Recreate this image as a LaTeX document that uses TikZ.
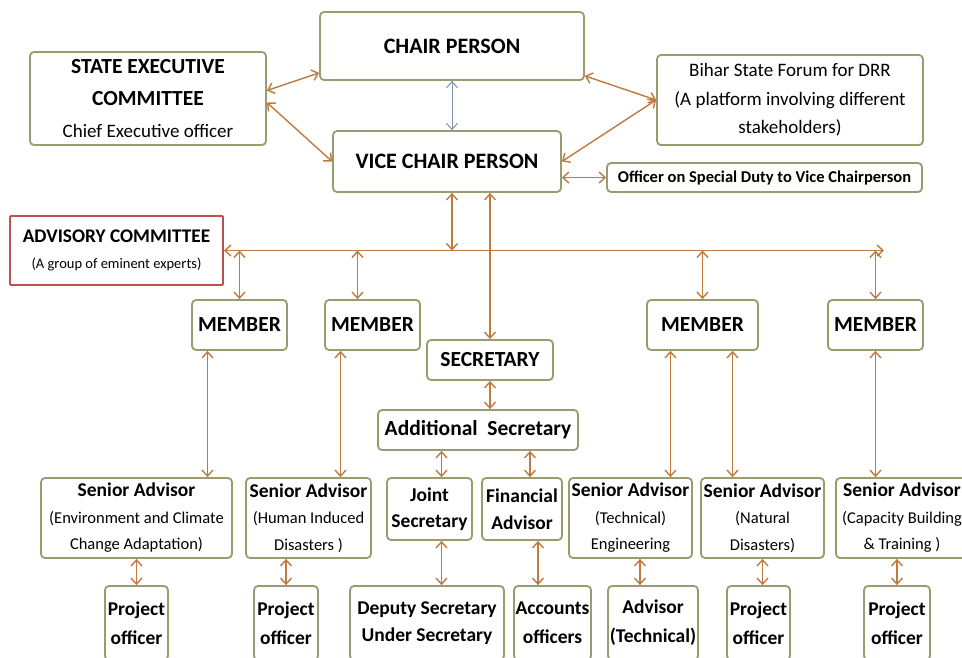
\documentclass[tikz,border=0pt]{standalone}
\usepackage{fontspec}
\setmainfont{Carlito}
\usetikzlibrary{arrows.meta}

\definecolor{boxline}{RGB}{155,155,112}
\definecolor{advline}{RGB}{192,80,77}
\definecolor{linkc}{RGB}{192,122,62}
\definecolor{topc}{RGB}{128,144,168}

\begin{document}
\begin{tikzpicture}[
  x=1pt, y=-1pt,
  box/.style={rectangle, draw=boxline, line width=1.8pt, rounded corners=4pt, fill=white,
              align=center, inner sep=0pt, font=\bfseries\fontsize{19.5}{26.5}\selectfont},
  boxsize/.style 2 args={minimum width=#1pt, minimum height=#2pt},
  arr/.style={{Straight Barb[length=6pt,width=11pt]}-{Straight Barb[length=6pt,width=11pt]},
              draw=linkc, line width=1.4pt}
]
\useasboundingbox[fill=white] (0,0) rectangle (962,657);

% top level
\node[box, boxsize={264}{68}, font=\bfseries\fontsize{22}{26}\selectfont] (chair) at (452,46) {CHAIR PERSON};
\node[box, boxsize={236}{93}, font=\bfseries\fontsize{21.5}{32}\selectfont] (sec) at (148,98.5)
  {STATE EXECUTIVE\\COMMITTEE\\{\mdseries\fontsize{19}{32}\selectfont Chief Executive officer}};
\node[box, boxsize={266}{90}, font=\fontsize{19}{28.5}\selectfont] (forum) at (790,100)
  {Bihar State Forum for DRR\\(A platform involving different\\stakeholders)};
\node[box, boxsize={228}{61}, font=\bfseries\fontsize{22}{26}\selectfont] (vice) at (447,161.5) {VICE CHAIR PERSON};
\node[box, boxsize={315}{29}, font=\bfseries\fontsize{16.5}{20}\selectfont] (osd) at (764.5,177.5)
  {Officer on Special Duty to Vice Chairperson};
\node[box, draw=advline, rounded corners=1pt, boxsize={213}{69}, font=\bfseries\fontsize{19.3}{26}\selectfont] (adv) at (116.5,250.5)
  {ADVISORY COMMITTEE\\{\mdseries\fontsize{14.5}{26}\selectfont (A group of eminent experts)}};

% members and secretariat
\node[box, boxsize={95}{50}, font=\bfseries\fontsize{21.5}{26}\selectfont] (m1) at (239.5,325) {MEMBER};
\node[box, boxsize={95}{50}, font=\bfseries\fontsize{21.5}{26}\selectfont] (m2) at (372.5,325) {MEMBER};
\node[box, boxsize={111}{50}, font=\bfseries\fontsize{21.5}{26}\selectfont] (m3) at (702.5,325) {MEMBER};
\node[box, boxsize={95}{50}, font=\bfseries\fontsize{21.5}{26}\selectfont] (m4) at (875.5,325) {MEMBER};
\node[box, boxsize={126}{40}, font=\bfseries\fontsize{21.5}{26}\selectfont] (secy) at (490,360) {SECRETARY};
\node[box, boxsize={200}{40}, font=\bfseries\fontsize{21.5}{26}\selectfont] (addl) at (478,430) {Additional\ \ Secretary};
\node[box, boxsize={85}{62}] (joint) at (429.5,509) {Joint\\Secretary};
\node[box, boxsize={80}{62}] (fin) at (522,509) {Financial\\Advisor};

% senior advisors
\node[box, boxsize={191}{80}] (sa1) at (136.5,518)
  {Senior Advisor\\{\mdseries\fontsize{16.5}{26.5}\selectfont (Environment and Climate}\\{\mdseries\fontsize{16.5}{26.5}\selectfont Change Adaptation)}};
\node[box, boxsize={125}{80}] (sa2) at (308.5,518)
  {Senior Advisor\\{\mdseries\fontsize{16.5}{26.5}\selectfont (Human Induced}\\{\mdseries\fontsize{16.5}{26.5}\selectfont Disasters )}};
\node[box, boxsize={123}{80}] (sa3) at (630.5,518)
  {Senior Advisor\\{\mdseries\fontsize{16.5}{26.5}\selectfont (Technical)}\\{\mdseries\fontsize{16.5}{26.5}\selectfont Engineering}};
\node[box, boxsize={123}{80}] (sa4) at (762.5,518)
  {Senior Advisor\\{\mdseries\fontsize{16.5}{26.5}\selectfont (Natural}\\{\mdseries\fontsize{16.5}{26.5}\selectfont Disasters)}};
\node[box, boxsize={132}{80}] (sa5) at (902,518)
  {Senior Advisor\\{\mdseries\fontsize{16.5}{26.5}\selectfont (Capacity Building}\\{\mdseries\fontsize{16.5}{26.5}\selectfont \& Training )}};

% bottom row
\node[box, boxsize={63}{74}, font=\bfseries\fontsize{19.5}{29}\selectfont] (po1) at (136.5,623) {Project\\officer};
\node[box, boxsize={64}{74}, font=\bfseries\fontsize{19.5}{29}\selectfont] (po2) at (286,623) {Project\\officer};
\node[box, boxsize={154}{74}, font=\bfseries\fontsize{19.5}{27}\selectfont] (dep) at (427,623) {Deputy Secretary\\Under Secretary};
\node[box, boxsize={77}{74}, font=\bfseries\fontsize{19.5}{29}\selectfont] (acc) at (552.5,623) {Accounts\\officers};
\node[box, boxsize={90}{74}, font=\bfseries\fontsize{19.5}{29}\selectfont] (advt) at (653,623) {Advisor\\(Technical)};
\node[box, boxsize={63}{74}, font=\bfseries\fontsize{19.5}{29}\selectfont] (po4) at (758.5,623) {Project\\officer};
\node[box, boxsize={66}{74}, font=\bfseries\fontsize{19.5}{29}\selectfont] (po5) at (897,623) {Project\\officer};

\coordinate (busR) at (884,250.5);

% links at the top
\draw[arr] ([yshift=8pt]sec.east) -- ([yshift=8pt]chair.south west);
\draw[arr] ([yshift=-4pt]sec.east) -- (vice.west);
\draw[arr, draw=topc, line width=1pt] (chair.south) -- (chair.south |- vice.north);
\draw[arr] ([yshift=5pt]chair.south east) -- (forum.west);
\draw[arr] (vice.east) -- (forum.west);
\draw[arr] (vice.east |- osd.west) -- (osd.west);

% advisory bus
\draw[arr] (adv.east) -- (busR);
\draw[arr] (vice.south -| chair.south) -- (chair.south |- busR);
\draw[arr] (m1.north |- busR) -- (m1.north);
\draw[arr] ([xshift=-15pt]m2.north |- busR) -- ([xshift=-15pt]m2.north);
\draw[arr] (m3.north |- busR) -- (m3.north);
\draw[arr] (m4.north |- busR) -- (m4.north);

% members to senior advisors
\draw[arr] ([xshift=-32pt]m1.south) -- ([xshift=-32pt]m1.south |- sa1.north);
\draw[arr] ([xshift=-32pt]m2.south) -- ([xshift=-32pt]m2.south |- sa2.north);
\draw[arr] ([xshift=-32pt]m3.south) -- ([xshift=-32pt]m3.south |- sa3.north);
\draw[arr] ([xshift=30pt]m3.south) -- ([xshift=30pt]m3.south |- sa4.north);
\draw[arr] (m4.south) -- (m4.south |- sa5.north);

% secretariat
\draw[arr] (secy.north |- vice.south) -- (secy.north);
\draw[arr] (secy.south) -- (secy.south |- addl.north);
\draw[arr] ([xshift=12pt]joint.north |- addl.south) -- ([xshift=12pt]joint.north);
\draw[arr] ([xshift=8pt]fin.north |- addl.south) -- ([xshift=8pt]fin.north);
\draw[arr] ([xshift=12pt]joint.south) -- ([xshift=12pt]joint.south |- dep.north);
\draw[arr] ([xshift=16pt]fin.south) -- ([xshift=16pt]fin.south |- acc.north);

% senior advisors to officers
\draw[arr] (sa1.south) -- (po1.north);
\draw[arr] (po2.north |- sa2.south) -- (po2.north);
\draw[arr] ([xshift=9.5pt]sa3.south) -- ([xshift=9.5pt]sa3.south |- advt.north);
\draw[arr] (sa4.south) -- (sa4.south |- po4.north);
\draw[arr] (po5.north |- sa5.south) -- (po5.north);
\end{tikzpicture}
\end{document}
